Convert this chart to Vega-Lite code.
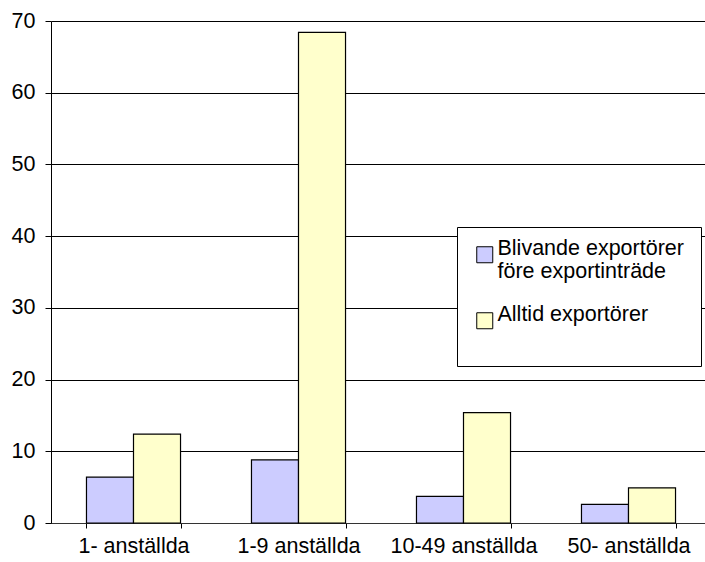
{
  "$schema": "https://vega.github.io/schema/vega-lite/v6.json",
  "width": 654,
  "height": 502,
  "autosize": {"type": "none"},
  "padding": {"left": 51, "top": 21, "right": 0, "bottom": 39},
  "background": "white",
  "config": {"view": {"stroke": null}, "font": "Liberation Sans"},
  "data": {
    "values": [
      {"kategori": "1- anställda", "serie": "Blivande exportörer före exportinträde", "varde": 6.4},
      {"kategori": "1- anställda", "serie": "Alltid exportörer", "varde": 12.4},
      {"kategori": "1-9 anställda", "serie": "Blivande exportörer före exportinträde", "varde": 8.8},
      {"kategori": "1-9 anställda", "serie": "Alltid exportörer", "varde": 68.4},
      {"kategori": "10-49 anställda", "serie": "Blivande exportörer före exportinträde", "varde": 3.7},
      {"kategori": "10-49 anställda", "serie": "Alltid exportörer", "varde": 15.4},
      {"kategori": "50- anställda", "serie": "Blivande exportörer före exportinträde", "varde": 2.6},
      {"kategori": "50- anställda", "serie": "Alltid exportörer", "varde": 4.9}
    ]
  },
  "mark": {"type": "bar", "stroke": "black", "strokeWidth": 1.2},
  "encoding": {
    "x": {
      "field": "kategori",
      "type": "nominal",
      "sort": ["1- anställda", "1-9 anställda", "10-49 anställda", "50- anställda"],
      "scale": {"range": [0, 660], "paddingInner": 0.43, "paddingOuter": 0.215},
      "axis": {
        "title": null,
        "labelAngle": 0,
        "labelFontSize": 21.5,
        "labelColor": "black",
        "labelPadding": 7,
        "tickBand": "extent",
        "tickSize": 5,
        "tickColor": "black",
        "domainColor": "#333333",
        "grid": false
      }
    },
    "xOffset": {
      "field": "serie",
      "sort": ["Blivande exportörer före exportinträde", "Alltid exportörer"],
      "scale": {"paddingInner": 0, "paddingOuter": 0}
    },
    "y": {
      "field": "varde",
      "type": "quantitative",
      "scale": {"domain": [0, 70], "nice": false},
      "axis": {
        "title": null,
        "values": [0, 10, 20, 30, 40, 50, 60, 70],
        "labelFontSize": 21.5,
        "labelColor": "black",
        "labelPadding": 10,
        "tickSize": 6,
        "tickColor": "black",
        "domainColor": "black",
        "gridColor": "black",
        "gridOpacity": 1
      }
    },
    "color": {
      "field": "serie",
      "type": "nominal",
      "sort": ["Blivande exportörer före exportinträde", "Alltid exportörer"],
      "scale": {
        "domain": ["Blivande exportörer före exportinträde", "Alltid exportörer"],
        "range": ["#ccccff", "#ffffcc"]
      },
      "legend": {
        "title": null,
        "orient": "none",
        "legendX": 406,
        "legendY": 206,
        "padding": 17,
        "strokeColor": "black",
        "fillColor": "white",
        "labelFontSize": 21.5,
        "labelColor": "black",
        "labelLimit": 400,
        "labelBaseline": "alphabetic",
        "labelOffset": 2,
        "symbolType": "square",
        "symbolSize": 256,
        "symbolStrokeColor": "black",
        "symbolStrokeWidth": 1,
        "symbolOpacity": 1,
        "rowPadding": 20,
        "labelExpr": "datum.label == 'Blivande exportörer före exportinträde' ? ['Blivande exportörer', 'före exportinträde'] : [datum.label, '']"
      }
    }
  }
}
